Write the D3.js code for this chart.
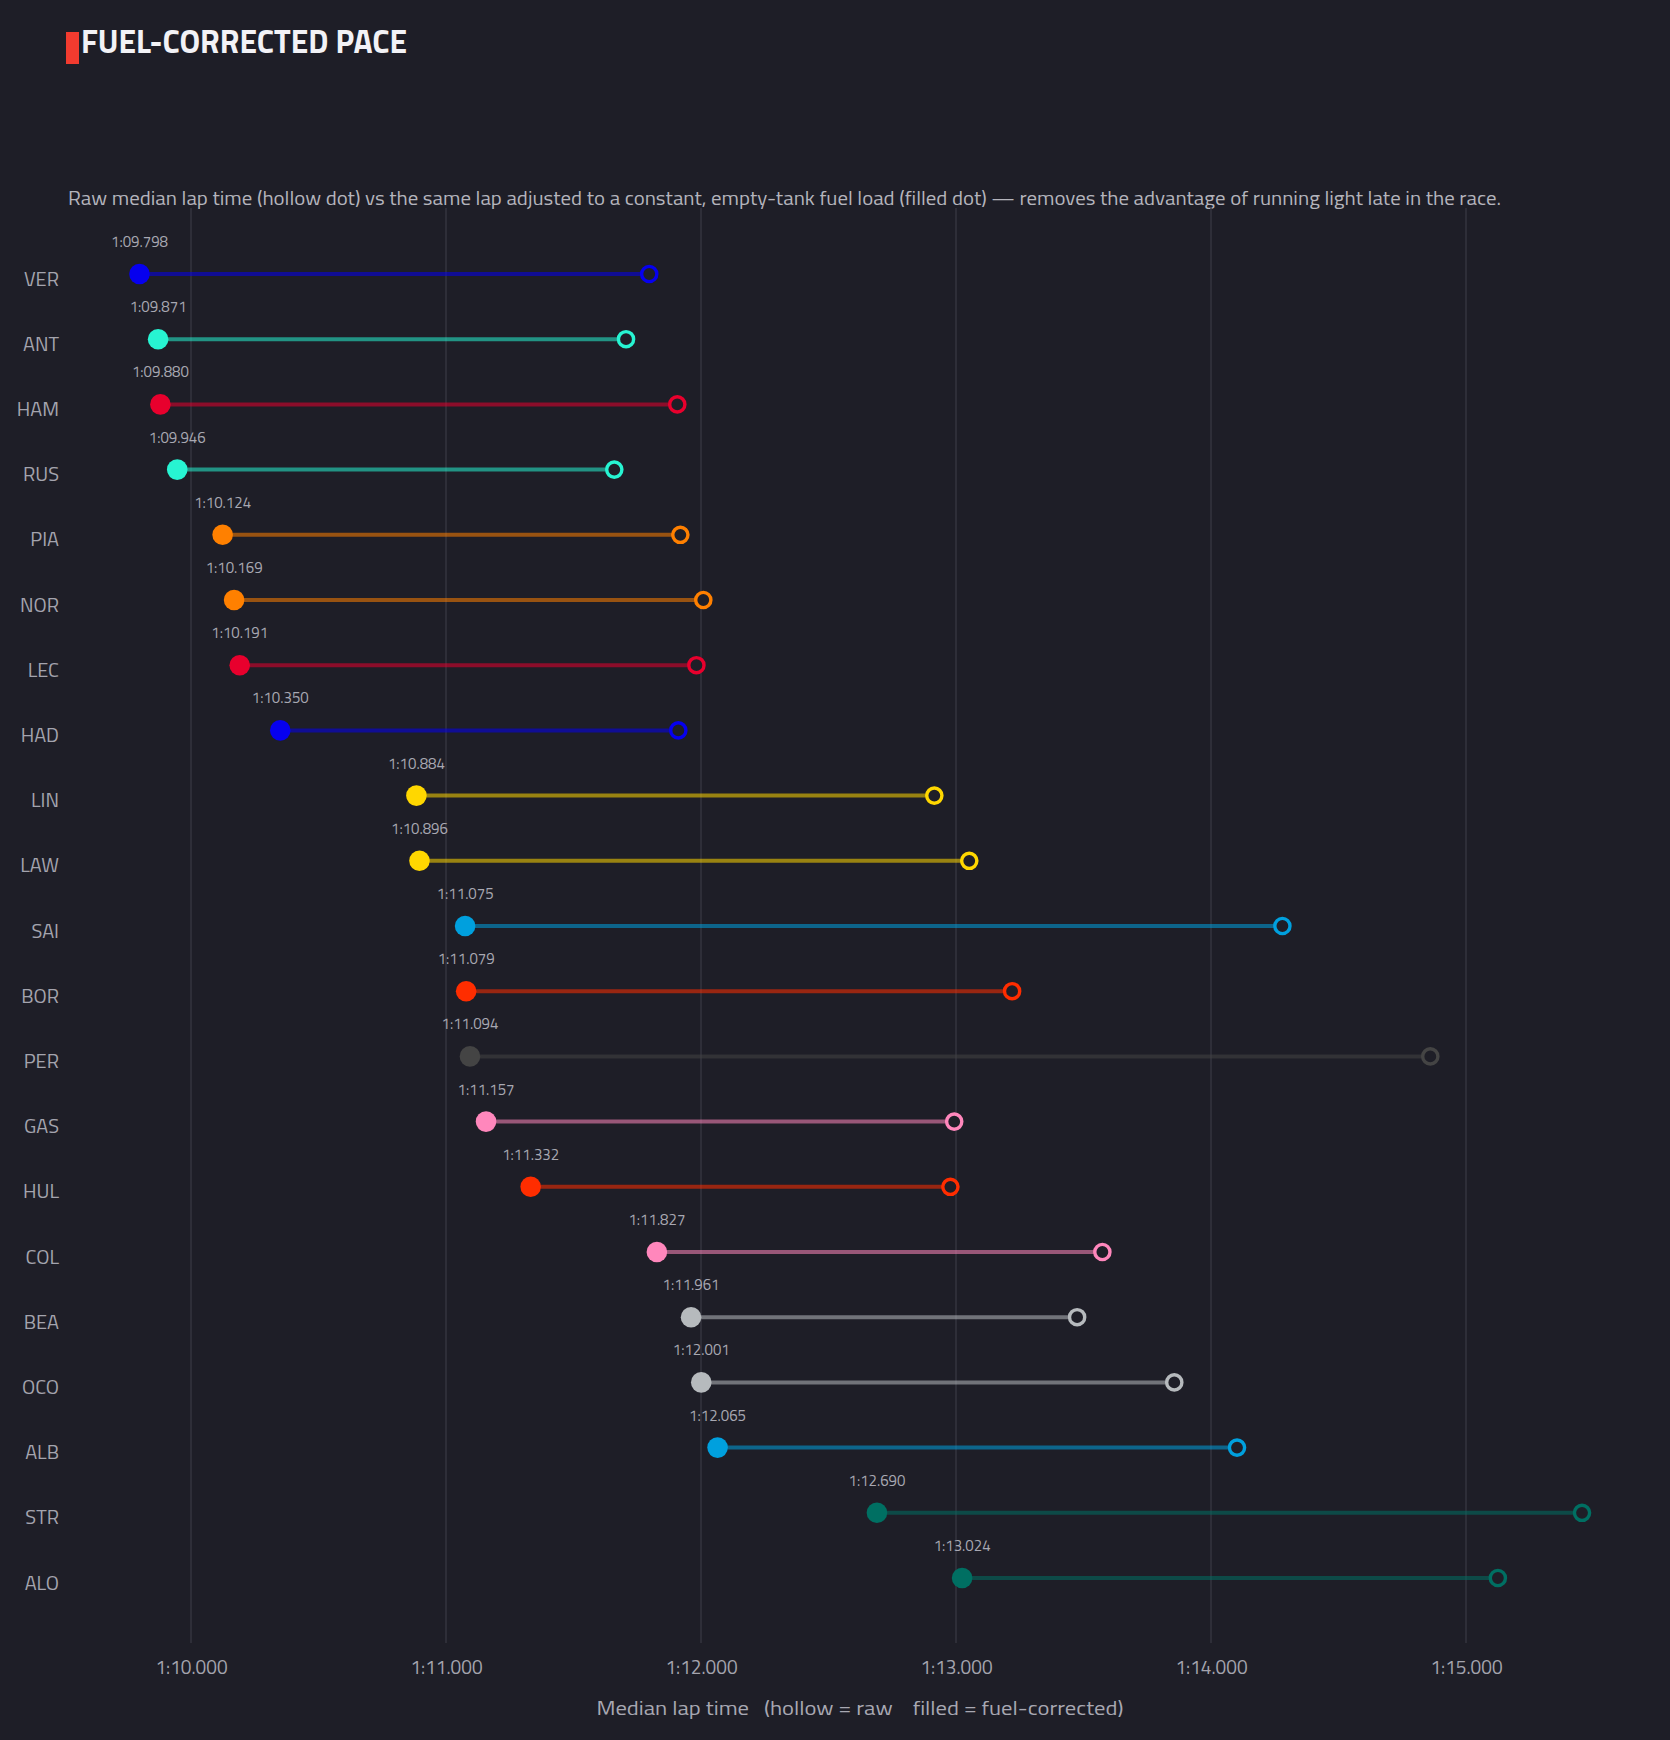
<!DOCTYPE html>
<html lang="en">
<head>
    <meta charset="UTF-8">
    <title>Fuel-corrected pace</title>
    <script src="https://d3js.org/d3.v7.min.js"></script>
    <style>
        html, body { margin: 0; padding: 0; background: #1e1e27; }
        svg text { font-family: "Titillium Web", "Liberation Sans Narrow", "DejaVu Sans Condensed", "Roboto Condensed", "Noto Sans", sans-serif; }
    </style>
</head>
<body>
<div id="figure" style="width: 1670px; height: 1740px"></div>
<script>

    // drivers, top to bottom
    const drivers = ['VER', 'ANT', 'HAM', 'RUS', 'PIA', 'NOR', 'LEC', 'HAD', 'LIN', 'LAW', 'SAI',
        'BOR', 'PER', 'GAS', 'HUL', 'COL', 'BEA', 'OCO', 'ALB', 'STR', 'ALO'];
    // fuel-corrected median lap (seconds) -> filled dot
    const corrected = [69.798, 69.871, 69.880, 69.946, 70.124, 70.169, 70.191, 70.350, 70.884, 70.896, 71.075,
        71.079, 71.094, 71.157, 71.332, 71.827, 71.961, 72.001, 72.065, 72.690, 73.024];
    // raw median lap (seconds) -> hollow dot
    const raw = [71.797, 71.706, 71.907, 71.660, 71.919, 72.009, 71.982, 71.911, 72.915, 73.052, 74.280,
        73.220, 74.860, 72.993, 72.978, 73.574, 73.475, 73.856, 74.102, 75.455, 75.125];
    const teamColors = ['#0600ef', '#27f4d2', '#e8002d', '#27f4d2', '#ff8000', '#ff8000', '#e8002d', '#0600ef',
        '#ffd700', '#ffd700', '#00a0de', '#ff2d00', '#444444', '#ff87bc', '#ff2d00', '#ff87bc', '#b6babd',
        '#b6babd', '#00a0de', '#006f62', '#006f62'];
    const tickValues = [70, 71, 72, 73, 74, 75];

    const bg = '#1e1e27';
    let w = 1670, h = 1740;

    let fmt = t => {
        let m = Math.floor(t / 60);
        let s = (t - m * 60).toFixed(3).padStart(6, '0');
        return m + ':' + s;
    };

    let rows = drivers.map((d, i) => ({driver: d, fc: corrected[i], raw: raw[i], color: teamColors[i]}));

    let svg = d3.select('#figure').append('svg')
        .attr('width', w)
        .attr('height', h);

    svg.append('rect').attr('width', w).attr('height', h).style('fill', bg);

    let xScale = d3.scaleLinear()
        .domain([70, 75])
        .range([191, 1466]);
    let yScale = d3.scalePoint()
        .domain(drivers)
        .range([274, 1578]);

    // title
    svg.append('rect')
        .attr('x', 66).attr('y', 32)
        .attr('width', 13).attr('height', 32)
        .style('fill', '#f23b2f');
    let title = svg.append('text')
        .attr('x', 81).attr('y', 53)
        .style('font-size', '32px')
        .style('font-weight', 'bold')
        .style('fill', '#f2f2f6')
        .text('FUEL-CORRECTED PACE');

    let sub = svg.append('text')
        .attr('x', 68).attr('y', 205)
        .style('font-size', '20px')
        .style('fill', '#b4b4bc')
        .text('Raw median lap time (hollow dot) vs the same lap adjusted to a constant, empty-tank fuel load (filled dot) \u2014 removes the advantage of running light late in the race.');

    // stretch/squeeze fallback fonts to the width the original font takes
    function fitWidth(sel, target) {
        sel.attr('textLength', target).attr('lengthAdjust', 'spacingAndGlyphs');
    }
    fitWidth(title, 326);
    fitWidth(sub, 1433);

    // grid
    let plot = svg.append('g').attr('id', 'plot');
    plot.selectAll('line.grid')
        .data(tickValues)
        .enter().append('line')
        .attr('class', 'grid')
        .attr('x1', d => xScale(d)).attr('x2', d => xScale(d))
        .attr('y1', 208).attr('y2', 1643)
        .style('stroke', '#34343f')
        .style('stroke-width', 1.5);

    // x axis labels
    let xAxis = d3.axisBottom(xScale)
        .tickValues(tickValues)
        .tickFormat(fmt)
        .tickSize(0)
        .tickPadding(0);
    let ax = svg.append('g')
        .attr('transform', 'translate(0,1660)')
        .call(xAxis);
    ax.select('.domain').remove();
    ax.selectAll('text')
        .attr('dy', '0.71em')
        .style('font-size', '19px')
        .style('fill', '#a4a4ae')
        .style('font-family', null);

    let axTitle = svg.append('text')
        .attr('x', 860).attr('y', 1715)
        .attr('text-anchor', 'middle')
        .attr('xml:space', 'preserve')
        .style('white-space', 'pre')
        .style('font-size', '20px')
        .style('fill', '#a8a8b2')
        .text('Median lap time   (hollow = raw    filled = fuel-corrected)');
    fitWidth(axTitle, 527);

    // y labels
    let yAxis = d3.axisLeft(yScale).tickSize(0).tickPadding(0);
    let ay = svg.append('g')
        .attr('transform', 'translate(59,0)')
        .call(yAxis);
    ay.select('.domain').remove();
    ay.selectAll('text')
        .attr('dy', '0.55em')
        .style('font-size', '20px')
        .style('fill', '#a4a4ae')
        .style('font-family', null);

    // dumbbells
    let g = plot.selectAll('g.row')
        .data(rows)
        .enter().append('g')
        .attr('class', 'row');

    g.append('line')
        .attr('x1', d => xScale(d.fc))
        .attr('x2', d => xScale(d.raw))
        .attr('y1', d => yScale(d.driver))
        .attr('y2', d => yScale(d.driver))
        .style('stroke', d => d.color)
        .style('stroke-opacity', 0.55)
        .style('stroke-width', 4);

    g.append('circle')
        .attr('cx', d => xScale(d.raw))
        .attr('cy', d => yScale(d.driver))
        .attr('r', 7.6)
        .style('fill', bg)
        .style('stroke', d => d.color)
        .style('stroke-width', 3.4);

    g.append('circle')
        .attr('cx', d => xScale(d.fc))
        .attr('cy', d => yScale(d.driver))
        .attr('r', 10.3)
        .style('fill', d => d.color);

    g.append('text')
        .attr('x', d => xScale(d.fc))
        .attr('y', d => yScale(d.driver) - 27)
        .attr('text-anchor', 'middle')
        .style('font-size', '15px')
        .style('fill', '#a8a8b2')
        .text(d => fmt(d.fc));

</script>
</body>
</html>
